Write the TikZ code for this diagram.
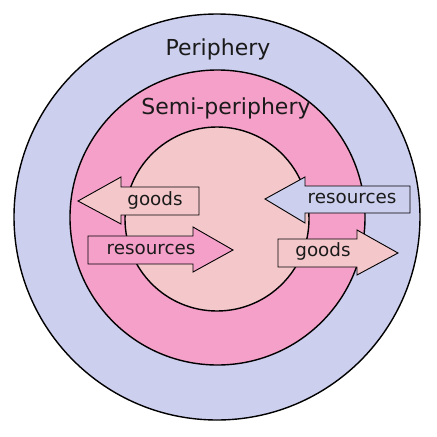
\documentclass[tikz,border=0pt]{standalone}
\usepackage{fontspec}
\setmainfont{DejaVu Sans}
\definecolor{lav}{HTML}{CDCFEE}
\definecolor{midpink}{HTML}{F5A0C8}
\definecolor{lightpink}{HTML}{F4C8CB}
\definecolor{txt}{HTML}{1A1A1A}
\begin{document}
\begin{tikzpicture}[x=1pt,y=-1pt,
  ring/.style={draw=black,line width=1.4pt},
  arrowshape/.style={draw=black,line width=0.9pt,line join=miter},
  biglabel/.style={font=\fontsize{22}{26}\selectfont,inner sep=0pt,anchor=base,text=txt},
  arrowlabel/.style={font=\fontsize{18.3}{22}\selectfont,inner sep=0pt,anchor=base,text=txt}]
\useasboundingbox (0,0) rectangle (437,437);
\fill[white] (0,0) rectangle (437,437);
\draw[ring,fill=lav] (217,217) circle (203);
\draw[ring,fill=midpink] (217.5,217.5) circle (147.5);
\draw[ring,fill=lightpink] (217,219) circle (92);
% left goods arrow (pointing left)
\draw[arrowshape,fill=lightpink] (78,201) -- (121,177) -- (121,187) -- (199,187) -- (199,215) -- (121,215) -- (121,224) -- cycle;
% left resources arrow (pointing right)
\draw[arrowshape,fill=midpink] (88,236) -- (193,236) -- (193,227) -- (233,250) -- (193,272) -- (193,264) -- (88,264) -- cycle;
% right resources arrow (pointing left)
\draw[arrowshape,fill=lav] (265,199) -- (305,177) -- (305,186) -- (410,186) -- (410,213) -- (305,213) -- (305,223) -- cycle;
% right goods arrow (pointing right)
\draw[arrowshape,fill=lightpink] (278,239) -- (357,239) -- (357,230) -- (398,253) -- (357,275) -- (357,267) -- (278,267) -- cycle;
\node[biglabel] (per) at (218,55) {Periphery};
\node[biglabel] (semi) at (226,114) {Semi-periphery};
\node[arrowlabel] (g1) at (155,205.5) {goods};
\node[arrowlabel] (r1) at (151,254) {resources};
\node[arrowlabel] (r2) at (352,203) {resources};
\node[arrowlabel] (g2) at (323,256) {goods};
\end{tikzpicture}
\end{document}
